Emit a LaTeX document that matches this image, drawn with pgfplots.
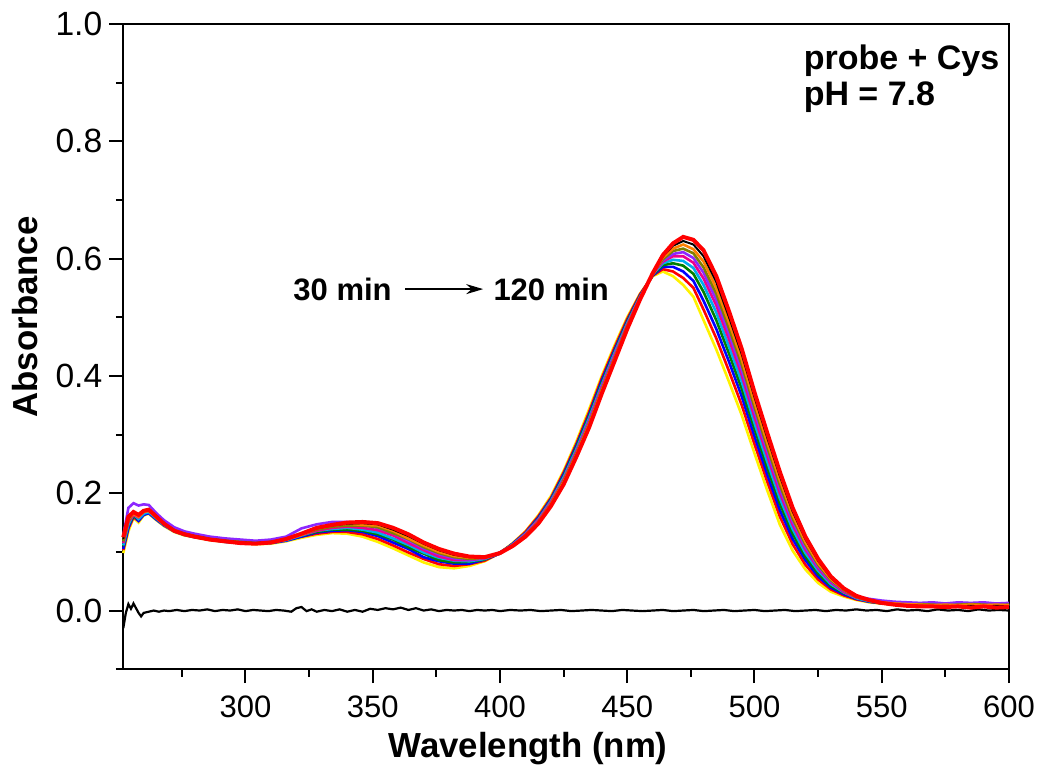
\documentclass[border=0pt]{standalone}
\usepackage{fontspec}
\setmainfont{Liberation Sans}
\usepackage{pgfplots}
\pgfplotsset{compat=1.18}
\usepackage{pgfplotstable}
\usetikzlibrary{arrows.meta}

\definecolor{cgreen}{RGB}{0,128,0}
\definecolor{cviolet}{RGB}{140,40,255}
\definecolor{colive}{RGB}{128,128,0}
\definecolor{corange}{RGB}{255,128,0}

% 30 min (y1) ... 120 min (y11)
\pgfplotstableread{
nm  y1    y2    y3    y4    y5    y6    y7    y8    y9    y10   y11
252 0.098 0.103 0.105 0.110 0.111 0.115 0.128 0.118 0.122 0.122 0.125
254 0.135 0.140 0.141 0.146 0.147 0.151 0.175 0.153 0.157 0.157 0.160
256 0.158 0.159 0.162 0.161 0.164 0.163 0.183 0.167 0.165 0.168 0.168
258 0.150 0.153 0.153 0.156 0.156 0.159 0.179 0.161 0.160 0.163 0.163
260 0.162 0.164 0.163 0.166 0.165 0.168 0.181 0.170 0.168 0.170 0.170
262 0.165 0.167 0.166 0.169 0.168 0.171 0.180 0.172 0.170 0.172 0.172
265 0.154 0.156 0.155 0.157 0.157 0.159 0.166 0.160 0.158 0.161 0.160
268 0.144 0.146 0.145 0.147 0.146 0.148 0.154 0.148 0.147 0.149 0.148
272 0.134 0.136 0.135 0.136 0.135 0.137 0.142 0.137 0.136 0.137 0.136
276 0.128 0.130 0.129 0.130 0.129 0.131 0.135 0.131 0.130 0.131 0.130
280 0.125 0.126 0.125 0.127 0.126 0.127 0.131 0.127 0.126 0.127 0.126
286 0.120 0.122 0.121 0.122 0.121 0.123 0.126 0.122 0.121 0.122 0.121
292 0.117 0.118 0.117 0.119 0.118 0.119 0.123 0.119 0.118 0.119 0.118
298 0.115 0.116 0.115 0.117 0.116 0.117 0.121 0.117 0.116 0.116 0.115
304 0.113 0.115 0.114 0.115 0.114 0.116 0.119 0.115 0.114 0.115 0.114
310 0.114 0.116 0.115 0.116 0.116 0.117 0.121 0.117 0.116 0.117 0.116
316 0.118 0.120 0.119 0.121 0.120 0.121 0.126 0.122 0.121 0.122 0.122
322 0.124 0.126 0.126 0.128 0.128 0.129 0.140 0.130 0.129 0.131 0.131
328 0.129 0.131 0.133 0.134 0.136 0.136 0.147 0.138 0.140 0.140 0.141
334 0.132 0.134 0.136 0.138 0.139 0.141 0.151 0.143 0.145 0.145 0.146
340 0.131 0.134 0.137 0.138 0.141 0.143 0.151 0.145 0.148 0.148 0.150
346 0.126 0.130 0.134 0.136 0.138 0.141 0.146 0.145 0.146 0.149 0.151
352 0.117 0.122 0.127 0.130 0.133 0.137 0.141 0.142 0.145 0.147 0.149
358 0.106 0.111 0.116 0.121 0.123 0.128 0.132 0.132 0.136 0.138 0.141
364 0.094 0.099 0.105 0.108 0.112 0.115 0.120 0.122 0.123 0.127 0.130
370 0.082 0.088 0.091 0.097 0.099 0.103 0.106 0.108 0.111 0.114 0.116
376 0.074 0.079 0.084 0.086 0.090 0.092 0.096 0.098 0.100 0.103 0.105
382 0.072 0.076 0.080 0.082 0.085 0.086 0.089 0.091 0.093 0.095 0.097
388 0.076 0.079 0.080 0.083 0.084 0.086 0.087 0.088 0.090 0.091 0.092
394 0.084 0.085 0.087 0.087 0.088 0.089 0.089 0.090 0.090 0.091 0.091
400 0.098 0.098 0.097 0.099 0.098 0.098 0.099 0.098 0.097 0.098 0.098
405 0.115 0.114 0.114 0.113 0.113 0.112 0.112 0.111 0.111 0.110 0.110
410 0.135 0.134 0.132 0.131 0.131 0.130 0.129 0.128 0.127 0.127 0.126
415 0.162 0.160 0.158 0.156 0.155 0.154 0.152 0.151 0.150 0.149 0.148
420 0.195 0.192 0.190 0.188 0.187 0.185 0.183 0.182 0.181 0.179 0.178
425 0.238 0.235 0.232 0.229 0.227 0.224 0.222 0.221 0.219 0.217 0.215
430 0.288 0.284 0.281 0.278 0.275 0.272 0.270 0.268 0.266 0.264 0.262
435 0.343 0.338 0.334 0.331 0.328 0.324 0.322 0.319 0.317 0.314 0.312
440 0.400 0.396 0.392 0.388 0.385 0.382 0.380 0.377 0.375 0.372 0.370
445 0.452 0.448 0.444 0.441 0.439 0.436 0.434 0.431 0.429 0.427 0.425
450 0.500 0.497 0.494 0.492 0.490 0.488 0.486 0.485 0.483 0.482 0.480
455 0.540 0.539 0.537 0.536 0.535 0.534 0.533 0.532 0.532 0.531 0.530
460 0.570 0.571 0.571 0.572 0.573 0.573 0.573 0.574 0.574 0.575 0.575
464 0.578 0.582 0.586 0.589 0.592 0.595 0.597 0.599 0.602 0.604 0.606
468 0.570 0.578 0.586 0.592 0.598 0.604 0.608 0.613 0.617 0.622 0.626
472 0.555 0.567 0.578 0.588 0.596 0.604 0.611 0.617 0.624 0.630 0.637
476 0.535 0.550 0.562 0.574 0.584 0.593 0.601 0.609 0.616 0.624 0.632
480 0.495 0.513 0.528 0.543 0.555 0.566 0.576 0.585 0.595 0.604 0.614
485 0.445 0.464 0.480 0.495 0.508 0.520 0.530 0.540 0.550 0.560 0.570
490 0.390 0.408 0.424 0.438 0.450 0.462 0.472 0.481 0.491 0.500 0.510
495 0.333 0.350 0.365 0.378 0.390 0.401 0.410 0.419 0.428 0.437 0.446
500 0.268 0.284 0.297 0.310 0.320 0.330 0.339 0.347 0.355 0.364 0.372
505 0.205 0.220 0.232 0.244 0.254 0.264 0.272 0.279 0.287 0.295 0.303
510 0.146 0.160 0.171 0.182 0.191 0.200 0.207 0.214 0.222 0.229 0.236
515 0.102 0.113 0.122 0.131 0.139 0.146 0.152 0.157 0.163 0.169 0.175
520 0.070 0.078 0.086 0.092 0.098 0.104 0.108 0.113 0.117 0.122 0.126
525 0.047 0.053 0.058 0.063 0.068 0.072 0.075 0.078 0.081 0.085 0.088
530 0.032 0.036 0.039 0.042 0.045 0.048 0.050 0.052 0.054 0.056 0.058
535 0.024 0.026 0.028 0.030 0.031 0.032 0.034 0.035 0.036 0.037 0.038
540 0.018 0.019 0.020 0.021 0.021 0.022 0.024 0.023 0.024 0.024 0.025
545 0.014 0.015 0.015 0.016 0.016 0.017 0.020 0.017 0.018 0.018 0.018
550 0.012 0.012 0.013 0.012 0.013 0.013 0.017 0.013 0.014 0.013 0.013
555 0.010 0.011 0.010 0.011 0.011 0.012 0.015 0.011 0.012 0.011 0.010
560 0.009 0.010 0.009 0.010 0.010 0.011 0.014 0.010 0.011 0.009 0.008
565 0.009 0.009 0.010 0.009 0.011 0.010 0.013 0.011 0.010 0.008 0.007
570 0.008 0.010 0.009 0.010 0.009 0.011 0.014 0.010 0.009 0.007 0.007
575 0.009 0.009 0.010 0.009 0.010 0.010 0.012 0.009 0.010 0.008 0.006
580 0.008 0.010 0.009 0.010 0.011 0.011 0.014 0.010 0.009 0.007 0.007
585 0.009 0.009 0.010 0.009 0.010 0.010 0.013 0.011 0.010 0.008 0.005
590 0.008 0.010 0.009 0.010 0.011 0.011 0.014 0.010 0.009 0.007 0.007
595 0.009 0.009 0.010 0.009 0.010 0.010 0.012 0.009 0.010 0.008 0.005
600 0.008 0.010 0.009 0.010 0.011 0.011 0.013 0.010 0.009 0.007 0.006
}\spectra

% probe alone (baseline)
\pgfplotstableread{
nm  a
252 -0.030
253 -0.004
254 0.011
255 0.003
256 0.012
257 0.004
258 -0.004
259 -0.010
260 -0.004
262 -0.002
264 0.000
266 -0.002
268 0.000
270 -0.001
273 0.001
276 -0.001
279 0.001
282 0.000
285 0.002
288 -0.001
291 0.001
294 0.000
297 0.002
300 -0.001
303 0.001
306 0.000
309 -0.001
312 0.001
315 0.000
318 -0.002
320 0.004
322 0.006
324 -0.001
326 0.002
328 -0.002
331 0.001
334 -0.001
337 0.002
340 -0.002
343 0.001
346 -0.002
349 0.003
352 0.001
355 0.004
358 0.002
361 0.005
364 0.001
367 0.004
370 0.000
373 0.002
376 -0.001
379 0.001
382 0.000
385 0.001
388 -0.001
391 0.001
394 0.000
397 0.001
400 -0.001
404 0.001
408 0.000
412 0.001
416 -0.001
420 0.000
424 0.001
428 -0.001
432 0.000
436 0.001
440 0.000
444 -0.001
448 0.001
452 0.000
456 -0.001
460 0.000
464 0.001
468 -0.001
472 0.000
476 0.001
480 -0.001
484 0.000
488 0.001
492 -0.001
496 0.000
500 0.001
504 -0.001
508 0.000
512 0.001
516 -0.001
520 0.000
524 0.001
528 -0.001
532 0.001
536 0.000
540 0.002
544 0.000
548 0.001
552 -0.001
556 0.002
560 0.000
564 0.001
568 -0.001
572 0.002
576 0.000
580 0.001
584 -0.001
588 0.002
592 0.000
596 0.001
600 0.000
}\blank

\begin{document}
\begin{tikzpicture}
\begin{axis}[
    scale only axis,
    width=442.85pt, height=322.6pt,
    xmin=252, xmax=600,
    ymin=-0.1, ymax=1.0,
    xtick={300,350,400,450,500,550,600},
    minor xtick={275,325,375,425,475,525,575},
    ytick={0,0.2,0.4,0.6,0.8,1.0},
    minor ytick={-0.1,0.1,0.3,0.5,0.7,0.9},
    yticklabel style={font=\fontsize{16.8}{19}\selectfont,
        /pgf/number format/.cd, fixed, fixed zerofill, precision=1},
    xticklabel style={font=\fontsize{15.5}{18}\selectfont, yshift=-3pt},
    /pgf/number format/assume math mode=true,
    tick align=outside,
    xtick pos=bottom, ytick pos=left,
    major tick length=7pt, minor tick length=3.75pt,
    tick style={line width=1pt, black},
    axis line style={line width=1pt},
    xlabel={Wavelength (nm)},
    ylabel={Absorbance},
    label style={font=\bfseries\fontsize{17.4}{20}\selectfont},
    xlabel style={at={(rel axis cs:0.457,0)}, anchor=base, yshift=-44pt},
    ylabel style={at={(rel axis cs:0,0.546)}, anchor=center, yshift=49pt},
    clip=false,
]

\addplot[black, line width=1.1pt] table[x=nm, y=a] {\blank};

\addplot[yellow, line width=1.3pt] table[x=nm, y=y1] {\spectra};
\addplot[red, line width=1.3pt] table[x=nm, y=y2] {\spectra};
\addplot[blue, line width=1.3pt] table[x=nm, y=y3] {\spectra};
\addplot[cgreen, line width=1.3pt] table[x=nm, y=y4] {\spectra};
\addplot[cyan, line width=1.3pt] table[x=nm, y=y5] {\spectra};
\addplot[magenta, line width=1.3pt] table[x=nm, y=y6] {\spectra};
\addplot[cviolet, line width=1.3pt] table[x=nm, y=y7] {\spectra};
\addplot[colive, line width=1.3pt] table[x=nm, y=y8] {\spectra};
\addplot[corange, line width=1.3pt] table[x=nm, y=y9] {\spectra};
\addplot[black, line width=1pt] table[x=nm, y=y10] {\spectra};
\addplot[red, line width=2pt] table[x=nm, y=y11] {\spectra};

\node[anchor=base west, inner sep=0pt, font=\bfseries\fontsize{17}{20}\selectfont] at (axis cs:519.2,0.9216) {probe + Cys};
\node[anchor=base west, inner sep=0pt, font=\bfseries\fontsize{17}{20}\selectfont] at (axis cs:519.2,0.8618) {pH = 7.8};

\node[anchor=base east, inner sep=0pt, font=\bfseries\fontsize{15.5}{18}\selectfont] at (axis cs:357.6,0.529) {30 min};
\node[anchor=base west, inner sep=0pt, font=\bfseries\fontsize{15.5}{18}\selectfont] at (axis cs:397.3,0.529) {120 min};
\draw[line width=1pt, -{Stealth[length=8.5pt, width=5pt]}] (axis cs:362.7,0.548) -- (axis cs:393.4,0.548);
\end{axis}
\pgfresetboundingbox
\path (-61.65pt,-50.4pt) rectangle (458.35pt,334.6pt);
\end{tikzpicture}
\end{document}
